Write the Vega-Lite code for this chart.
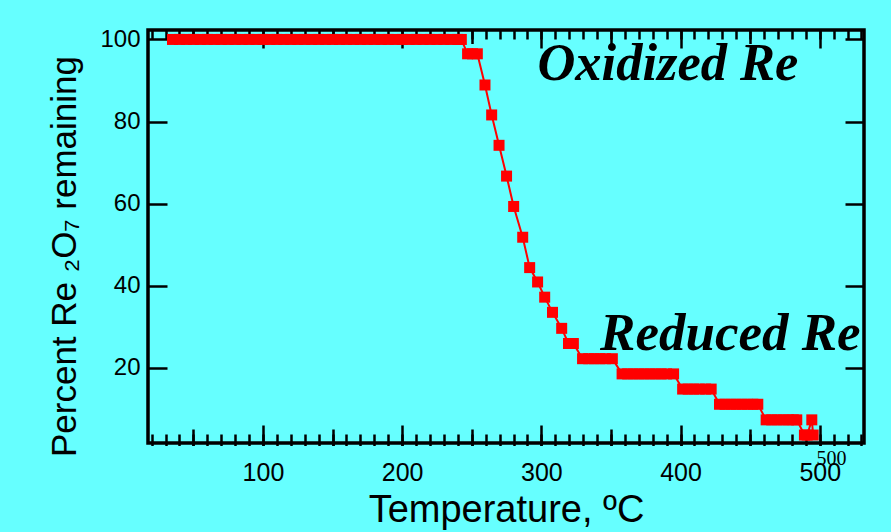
{
  "$schema": "https://vega.github.io/schema/vega-lite/v6.json",
  "width": 716,
  "height": 413,
  "autosize": {"type": "none"},
  "padding": {"left": 148, "top": 30, "right": 27, "bottom": 89},
  "background": "#66ffff",
  "config": {
    "view": {"stroke": "#000000", "strokeWidth": 3.5},
    "axis": {
      "grid": false,
      "domain": false,
      "tickColor": "#000000",
      "tickWidth": 2.5,
      "labelColor": "#000000",
      "labelFont": "Liberation Sans",
      "titleFont": "Liberation Sans",
      "titleFontWeight": "normal",
      "titleColor": "#000000"
    }
  },
  "data": {
    "values": [
      {"temp": 35, "pct": 100}, {"temp": 40, "pct": 100}, {"temp": 45, "pct": 100}, {"temp": 50, "pct": 100},
      {"temp": 55, "pct": 100}, {"temp": 60, "pct": 100}, {"temp": 65, "pct": 100}, {"temp": 70, "pct": 100},
      {"temp": 75, "pct": 100}, {"temp": 80, "pct": 100}, {"temp": 85, "pct": 100}, {"temp": 90, "pct": 100},
      {"temp": 95, "pct": 100}, {"temp": 100, "pct": 100}, {"temp": 105, "pct": 100}, {"temp": 110, "pct": 100},
      {"temp": 115, "pct": 100}, {"temp": 120, "pct": 100}, {"temp": 125, "pct": 100}, {"temp": 130, "pct": 100},
      {"temp": 135, "pct": 100}, {"temp": 140, "pct": 100}, {"temp": 145, "pct": 100}, {"temp": 150, "pct": 100},
      {"temp": 155, "pct": 100}, {"temp": 160, "pct": 100}, {"temp": 165, "pct": 100}, {"temp": 170, "pct": 100},
      {"temp": 175, "pct": 100}, {"temp": 180, "pct": 100}, {"temp": 185, "pct": 100}, {"temp": 190, "pct": 100},
      {"temp": 195, "pct": 100}, {"temp": 200, "pct": 100}, {"temp": 205, "pct": 100}, {"temp": 210, "pct": 100},
      {"temp": 215, "pct": 100}, {"temp": 220, "pct": 100}, {"temp": 225, "pct": 100}, {"temp": 230, "pct": 100},
      {"temp": 235, "pct": 100}, {"temp": 240, "pct": 100}, {"temp": 242.5, "pct": 100},
      {"temp": 247, "pct": 96.5}, {"temp": 250.5, "pct": 96.5}, {"temp": 254, "pct": 96.5},
      {"temp": 259.5, "pct": 88.9},
      {"temp": 264.3, "pct": 81.6},
      {"temp": 269.6, "pct": 74.2},
      {"temp": 275.0, "pct": 66.7},
      {"temp": 280.1, "pct": 59.3},
      {"temp": 286.6, "pct": 51.8},
      {"temp": 291.6, "pct": 44.4},
      {"temp": 297.3, "pct": 40.9},
      {"temp": 302.4, "pct": 37.2},
      {"temp": 308.0, "pct": 33.5},
      {"temp": 314.6, "pct": 29.6},
      {"temp": 319.5, "pct": 25.9}, {"temp": 321.5, "pct": 25.9}, {"temp": 323, "pct": 25.9},
      {"temp": 329.6, "pct": 22.2}, {"temp": 334, "pct": 22.2}, {"temp": 338, "pct": 22.2},
      {"temp": 342, "pct": 22.2}, {"temp": 346, "pct": 22.2}, {"temp": 351, "pct": 22.2},
      {"temp": 358, "pct": 18.5}, {"temp": 362, "pct": 18.5}, {"temp": 366, "pct": 18.5}, {"temp": 370, "pct": 18.5},
      {"temp": 374, "pct": 18.5}, {"temp": 378, "pct": 18.5}, {"temp": 382, "pct": 18.5}, {"temp": 386, "pct": 18.5},
      {"temp": 390, "pct": 18.5}, {"temp": 395, "pct": 18.5},
      {"temp": 401.5, "pct": 14.8}, {"temp": 405.5, "pct": 14.8}, {"temp": 409.5, "pct": 14.8},
      {"temp": 413.5, "pct": 14.8}, {"temp": 418, "pct": 14.8}, {"temp": 422, "pct": 14.8},
      {"temp": 428, "pct": 11.1}, {"temp": 432, "pct": 11.1}, {"temp": 436, "pct": 11.1}, {"temp": 440, "pct": 11.1},
      {"temp": 444, "pct": 11.1}, {"temp": 448, "pct": 11.1}, {"temp": 452, "pct": 11.1}, {"temp": 455.5, "pct": 11.1},
      {"temp": 461.5, "pct": 7.3}, {"temp": 465.5, "pct": 7.3}, {"temp": 469.5, "pct": 7.3}, {"temp": 473.5, "pct": 7.3},
      {"temp": 477.5, "pct": 7.3}, {"temp": 481, "pct": 7.3}, {"temp": 483.5, "pct": 7.3},
      {"temp": 489, "pct": 3.6}, {"temp": 491, "pct": 3.6},
      {"temp": 494.3, "pct": 7.3},
      {"temp": 495.3, "pct": 3.6}
    ]
  },
  "resolve": {"scale": {"x": "shared", "y": "shared"}, "axis": {"x": "independent", "y": "independent"}},
  "layer": [
    {
      "mark": {"type": "line", "color": "#ff0000", "strokeWidth": 2},
      "encoding": {
        "x": {"field": "temp", "type": "quantitative", "scale": {"domain": [17.4, 531.8], "nice": false, "zero": false},
          "axis": {"orient": "bottom", "values": [100, 200, 300, 400, 500], "ticks": false, "tickSize": 0, "labelFontSize": 25, "labelPadding": 17,
            "title": "Temperature, ºC", "titleFontSize": 38, "titlePadding": 6}},
        "y": {"field": "pct", "type": "quantitative", "scale": {"domain": [1.66, 102.3], "nice": false, "zero": false},
          "axis": {"orient": "left", "values": [20, 40, 60, 80, 100], "ticks": false, "tickSize": 0, "labelFontSize": 24, "labelPadding": 8,
            "title": "Percent Re ₂O₇ remaining", "titleFontSize": 35, "titlePadding": 17, "titleY": 226}}
      }
    },
    {
      "mark": {"type": "point", "shape": "square", "filled": true, "size": 121, "color": "#ff0000", "opacity": 1, "strokeWidth": 0},
      "encoding": {
        "x": {"field": "temp", "type": "quantitative", "scale": {"domain": [17.4, 531.8], "nice": false, "zero": false},
          "axis": {"orient": "bottom", "values": [20, 30, 40, 50, 60, 70, 80, 90, 100, 110, 120, 130, 140, 150, 160, 170, 180, 190, 200, 210, 220, 230, 240, 250, 260, 270, 280, 290, 300, 310, 320, 330, 340, 350, 360, 370, 380, 390, 400, 410, 420, 430, 440, 450, 460, 470, 480, 490, 500, 510, 520, 530],
            "labels": false, "offset": -9, "tickSize": 11.5, "title": null}},
        "y": {"field": "pct", "type": "quantitative", "scale": {"domain": [1.66, 102.3], "nice": false, "zero": false},
          "axis": {"orient": "left", "values": [20, 40, 60, 80, 100], "labels": false, "offset": -19, "tickSize": 19, "title": null}}
      }
    },
    {
      "mark": {"type": "point", "opacity": 0},
      "encoding": {
        "x": {"field": "temp", "type": "quantitative", "scale": {"domain": [17.4, 531.8], "nice": false, "zero": false},
          "axis": {"orient": "bottom", "values": [50, 150, 250, 350, 450], "labels": false, "offset": -14, "tickSize": 16.5, "title": null}},
        "y": {"field": "pct", "type": "quantitative", "scale": {"domain": [1.66, 102.3], "nice": false, "zero": false},
          "axis": {"orient": "right", "values": [20, 40, 60, 80, 100], "labels": false, "offset": -19, "tickSize": 19, "title": null}}
      }
    },
    {
      "mark": {"type": "point", "opacity": 0},
      "encoding": {
        "x": {"field": "temp", "type": "quantitative", "scale": {"domain": [17.4, 531.8], "nice": false, "zero": false},
          "axis": {"orient": "bottom", "values": [100, 200, 300, 400, 500], "labels": false, "offset": -18, "tickSize": 20.5, "title": null}},
        "y": {"field": "pct", "type": "quantitative", "scale": {"domain": [1.66, 102.3], "nice": false, "zero": false}, "axis": null}
      }
    },
    {
      "mark": {"type": "point", "opacity": 0},
      "encoding": {
        "x": {"field": "temp", "type": "quantitative", "scale": {"domain": [17.4, 531.8], "nice": false, "zero": false},
          "axis": {"orient": "top", "values": [20, 30, 40, 50, 60, 70, 80, 90, 100, 110, 120, 130, 140, 150, 160, 170, 180, 190, 200, 210, 220, 230, 240, 250, 260, 270, 280, 290, 300, 310, 320, 330, 340, 350, 360, 370, 380, 390, 400, 410, 420, 430, 440, 450, 460, 470, 480, 490, 500, 510, 520, 530],
            "labels": false, "offset": -9, "tickSize": 9, "title": null}},
        "y": {"field": "pct", "type": "quantitative", "scale": {"domain": [1.66, 102.3], "nice": false, "zero": false}, "axis": null}
      }
    },
    {
      "mark": {"type": "point", "opacity": 0},
      "encoding": {
        "x": {"field": "temp", "type": "quantitative", "scale": {"domain": [17.4, 531.8], "nice": false, "zero": false},
          "axis": {"orient": "top", "values": [50, 150, 250, 350, 450], "labels": false, "offset": -13.5, "tickSize": 13.5, "title": null}},
        "y": {"field": "pct", "type": "quantitative", "scale": {"domain": [1.66, 102.3], "nice": false, "zero": false}, "axis": null}
      }
    },
    {
      "mark": {"type": "point", "opacity": 0},
      "encoding": {
        "x": {"field": "temp", "type": "quantitative", "scale": {"domain": [17.4, 531.8], "nice": false, "zero": false},
          "axis": {"orient": "top", "values": [100, 200, 300, 400, 500], "labels": false, "offset": -18, "tickSize": 18, "title": null}},
        "y": {"field": "pct", "type": "quantitative", "scale": {"domain": [1.66, 102.3], "nice": false, "zero": false}, "axis": null}
      }
    },
    {
      "data": {"values": [{"label": "Oxidized Re"}]},
      "mark": {"type": "text", "font": "Liberation Serif", "fontStyle": "italic", "fontWeight": "bold", "fontSize": 52.5, "align": "center", "baseline": "alphabetic", "color": "#000000"},
      "encoding": {
        "text": {"field": "label"},
        "x": {"datum": 390.9, "type": "quantitative", "axis": null},
        "y": {"datum": 90.1, "type": "quantitative", "axis": null}
      }
    },
    {
      "data": {"values": [{"label": "Reduced Re"}]},
      "mark": {"type": "text", "font": "Liberation Serif", "fontStyle": "italic", "fontWeight": "bold", "fontSize": 53, "align": "center", "baseline": "alphabetic", "color": "#000000"},
      "encoding": {
        "text": {"field": "label"},
        "x": {"datum": 435.8, "type": "quantitative", "axis": null},
        "y": {"datum": 24.3, "type": "quantitative", "axis": null}
      }
    },
    {
      "data": {"values": [{"label": "500"}]},
      "mark": {"type": "text", "font": "Liberation Serif", "fontSize": 20, "align": "center", "baseline": "middle", "color": "#000000"},
      "encoding": {
        "text": {"field": "label"},
        "x": {"datum": 508.4, "type": "quantitative", "axis": null},
        "y": {"datum": -2.3, "type": "quantitative", "axis": null}
      }
    }
  ]
}
